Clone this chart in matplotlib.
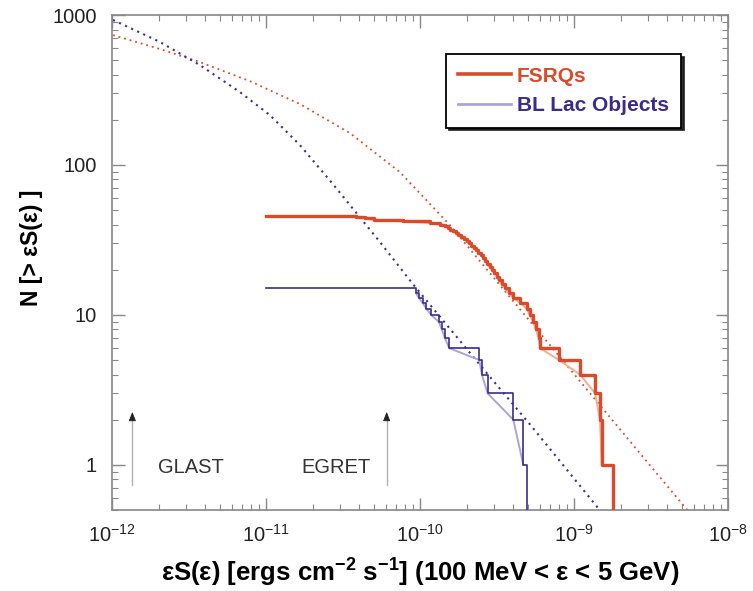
import numpy as np
import matplotlib
matplotlib.use('Agg')
import matplotlib.pyplot as plt
from matplotlib.lines import Line2D

plt.rcParams['font.family'] = ['Liberation Sans', 'DejaVu Sans']
plt.rcParams['mathtext.fontset'] = 'custom'
plt.rcParams['mathtext.rm'] = 'Liberation Sans'
plt.rcParams['mathtext.bf'] = 'Liberation Sans:bold'

# log10 fluxes of the individual sources (brightest first)
fsrq_logS = [-8.747, -8.822, -8.833, -8.865, -8.963, -9.099, -9.223, -9.232,
             -9.250, -9.268, -9.290, -9.309, -9.350, -9.398, -9.425, -9.450,
             -9.470, -9.490, -9.505, -9.520, -9.535, -9.550, -9.565, -9.580,
             -9.593, -9.608, -9.623, -9.638, -9.653, -9.668, -9.684, -9.699,
             -9.716, -9.734, -9.752, -9.770, -9.788, -9.805, -9.822, -9.840,
             -9.870, -9.940, -10.110, -10.300, -10.360, -10.420]
bllac_logS = [-9.309, -9.331, -9.396, -9.563, -9.600, -9.617, -9.812, -9.840,
              -9.860, -9.880, -9.930, -9.960, -9.985, -10.010, -10.028]
step_start = 1e-11

# model curves (log S, log N)
fsrq_model_logS = [-11.995, -11.690, -11.431, -11.106, -10.781, -10.456, -10.132,
                   -9.807, -9.482, -9.157, -8.833, -8.508, -8.261]
fsrq_model_logN = [2.866, 2.773, 2.686, 2.559, 2.406, 2.212, 1.952,
                   1.598, 1.197, 0.797, 0.397, -0.004, -0.308]
bllac_model_logS = [-11.995, -11.690, -11.431, -11.171, -10.976, -10.781, -10.567,
                    -10.261, -10.047, -9.567, -9.288, -8.833]
bllac_model_logN = [2.967, 2.820, 2.666, 2.486, 2.332, 2.132, 1.872,
                    1.485, 1.204, 0.610, 0.270, -0.304]

# sensitivity limits
glast_limit = 1.35e-12
egret_limit = 6.05e-11

red = '#dc4a2c'
red_light = '#f4ad96'
navy = '#3b2c8c'
lav = '#aea3dc'


def cum_step(logS, start):
    s = 10 ** np.sort(np.array(logS))
    n = len(s)
    x = np.concatenate([[start], s])
    y = np.concatenate([np.arange(n, 0, -1), [0.1]]).astype(float)
    return x, y


fig = plt.figure(figsize=(7.53, 5.91), dpi=100)
ax = fig.add_axes([0.1491, 0.1371, 0.8181, 0.8375])
ax.set_xscale('log')
ax.set_yscale('log')

ax.plot(10 ** np.array(fsrq_model_logS), 10 ** np.array(fsrq_model_logN),
        color=red, lw=1.3, ls=(0, (1, 2.2)), zorder=2)
ax.plot(10 ** np.array(bllac_model_logS), 10 ** np.array(bllac_model_logN),
        color=navy, lw=1.5, ls=(0, (1, 2.2)), zorder=2)

fx, fy = cum_step(fsrq_logS, step_start)
ax.plot(fx[1:-1], fy[1:-1], color=red_light, lw=1.4, zorder=3)
ax.step(fx, fy, where='post', color=red, lw=2.4, zorder=4)

bx, by = cum_step(bllac_logS, step_start)
ax.plot(bx[1:-1], by[1:-1], color=lav, lw=1.4, zorder=3)
ax.step(bx, by, where='post', color=navy, lw=1.2, zorder=4)

# limit arrows
for xl in [glast_limit, egret_limit]:
    ax.plot([xl, xl], [0.73, 2.1], color='#b0b0b0', lw=1.0, zorder=2)
    ax.annotate('', xy=(xl, 2.35), xytext=(xl, 1.9),
                arrowprops=dict(arrowstyle='-|>,head_width=0.22,head_length=0.55',
                                color='#222222', lw=0.6))
ax.text(10 ** -11.489, 0.96, 'GLAST', fontsize=14.5, color='#333333',
        ha='center', va='center')
ax.text(10 ** -10.547, 0.96, 'EGRET', fontsize=14.5, color='#333333',
        ha='center', va='center')

ax.set_xlim(1e-12, 1e-8)
ax.set_ylim(0.5, 1000)
ax.set_xticks([1e-12, 1e-11, 1e-10, 1e-9, 1e-8])
ax.set_xticklabels(['$10^{-12}$', '$10^{-11}$', '$10^{-10}$', '$10^{-9}$', '$10^{-8}$'])
ax.set_yticks([1, 10, 100, 1000])
ax.set_yticklabels(['1', '10', '100', '1000'])
ax.tick_params(which='both', direction='in', top=True, right=True, color='#888888')
ax.tick_params(which='major', length=9, width=1.0, labelsize=14.5, labelcolor='#222222')
ax.tick_params(which='minor', length=4.5, width=0.8)
ax.tick_params(axis='x', which='major', pad=10)
ax.tick_params(axis='y', which='major', pad=11)
for sp in ax.spines.values():
    sp.set_color('#888888')
    sp.set_linewidth(1.2)

ax.set_xlabel(r'εS(ε) [ergs cm$^{\mathbf{-2}}$ s$^{\mathbf{-1}}$] (100 MeV < ε < 5 GeV)',
              fontsize=18.5, fontweight='bold', labelpad=7)
ax.set_ylabel('N [> εS(ε) ]', fontsize=16.5, fontweight='bold')
ax.yaxis.set_label_coords(-0.112, 0.53)

handles = [Line2D([], [], color=red, lw=2.6), Line2D([], [], color=lav, lw=2.0)]
leg = ax.legend(handles, ['FSRQs', 'BL Lac Objects'], loc='upper left',
                bbox_to_anchor=(0.5417, 0.921), fancybox=False,
                shadow={'color': '#1a1a1a', 'alpha': 0.9},
                frameon=True, handlelength=2.5, handletextpad=0.3,
                borderpad=0.6, labelspacing=0.5, borderaxespad=0,
                prop={'size': 15, 'weight': 'bold'})
leg.get_frame().set_edgecolor('black')
leg.get_frame().set_linewidth(1.3)
leg.get_texts()[0].set_color(red)
leg.get_texts()[1].set_color(navy)

fig.savefig('out.png', dpi=100)
